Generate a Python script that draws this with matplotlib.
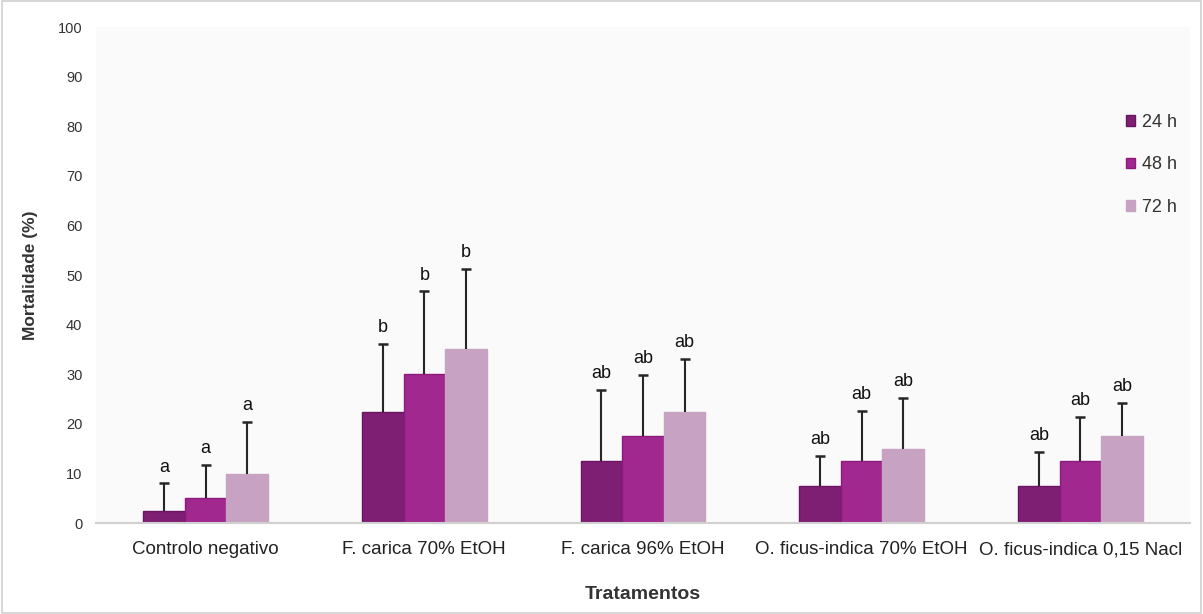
import matplotlib
matplotlib.use('Agg')
import matplotlib.pyplot as plt
import numpy as np
from matplotlib.patches import Rectangle

plt.rcParams['font.family'] = ['Liberation Sans', 'DejaVu Sans']

treatments = ['Controlo negativo', 'F. carica 70% EtOH', 'F. carica 96% EtOH',
              'O. ficus-indica 70% EtOH', 'O. ficus-indica 0,15 Nacl']
series = ['24 h', '48 h', '72 h']
mort_24 = [2.5, 22.5, 12.5, 7.5, 7.5]
mort_48 = [5.0, 30.0, 17.5, 12.5, 12.5]
mort_72 = [10.0, 35.0, 22.5, 15.0, 17.5]
err_24 = [5.5, 13.6, 14.4, 6.0, 6.8]
err_48 = [6.8, 16.7, 12.4, 10.1, 8.9]
err_72 = [10.3, 16.3, 10.5, 10.3, 6.8]
letters_24 = ['a', 'b', 'ab', 'ab', 'ab']
letters_48 = ['a', 'b', 'ab', 'ab', 'ab']
letters_72 = ['a', 'b', 'ab', 'ab', 'ab']

colors = ['#7e1f74', '#a0288f', '#c8a2c2']
edges = ['#6a1462', '#8e1a7e', '#c8a2c2']

values = [mort_24, mort_48, mort_72]
errors = [err_24, err_48, err_72]
letters = [letters_24, letters_48, letters_72]

fig = plt.figure(figsize=(12.03, 6.14), dpi=100)
fig.patches.append(Rectangle((0.002, 0.002), 0.996, 0.996, transform=fig.transFigure,
                             fill=False, edgecolor='#d0d0d0', linewidth=1.2))
ax = fig.add_axes([0.080, 0.148, 0.909, 0.808])
ax.set_facecolor('#fafafa')

x = np.arange(len(treatments))
w = 0.19
for i in range(3):
    pos = x + (i - 1) * w
    v = np.array(values[i])
    e = np.array(errors[i])
    ax.bar(pos, v, w, color=colors[i], edgecolor=edges[i], linewidth=1,
           label=series[i], zorder=2)
    # only the upper half of the error bar, with a cap on top
    ax.vlines(pos, v, v + e, color='#262626', linewidth=1.5, zorder=3)
    ax.plot(pos, v + e, linestyle='none', marker='_', markersize=7,
            markeredgewidth=1.8, color='#262626', zorder=3)
    for p, vv, ee, t in zip(pos, v, e, letters[i]):
        ax.text(p, vv + ee + 1.6, t, ha='center', va='bottom', fontsize=13, color='#111111')

ax.set_xlim(-0.5, 4.5)
ax.set_ylim(0, 100)
ax.set_yticks(range(0, 101, 10))
ax.set_xticks(x)
ax.set_xticklabels(treatments, fontsize=13.5, color='#222222')
ax.tick_params(axis='y', length=0, labelsize=10.5, colors='#333333', pad=10)
ax.tick_params(axis='x', length=0, pad=13)
for s in ['top', 'right', 'left']:
    ax.spines[s].set_visible(False)
ax.spines['bottom'].set_color('#d0d0d0')
ax.spines['bottom'].set_linewidth(1.5)

ax.set_ylabel('Mortalidade (%)', fontsize=12.5, fontweight='bold', color='#333333', labelpad=14)
ax.set_xlabel('Tratamentos', fontsize=14, fontweight='bold', color='#333333', labelpad=20)

leg = ax.legend(loc='upper right', bbox_to_anchor=(1.003, 0.858), frameon=False, fontsize=13,
                handlelength=0.55, handleheight=0.55, handletextpad=0.35, labelspacing=1.42)
for t in leg.get_texts():
    t.set_color('#333333')

fig.savefig('out.png', dpi=100)
